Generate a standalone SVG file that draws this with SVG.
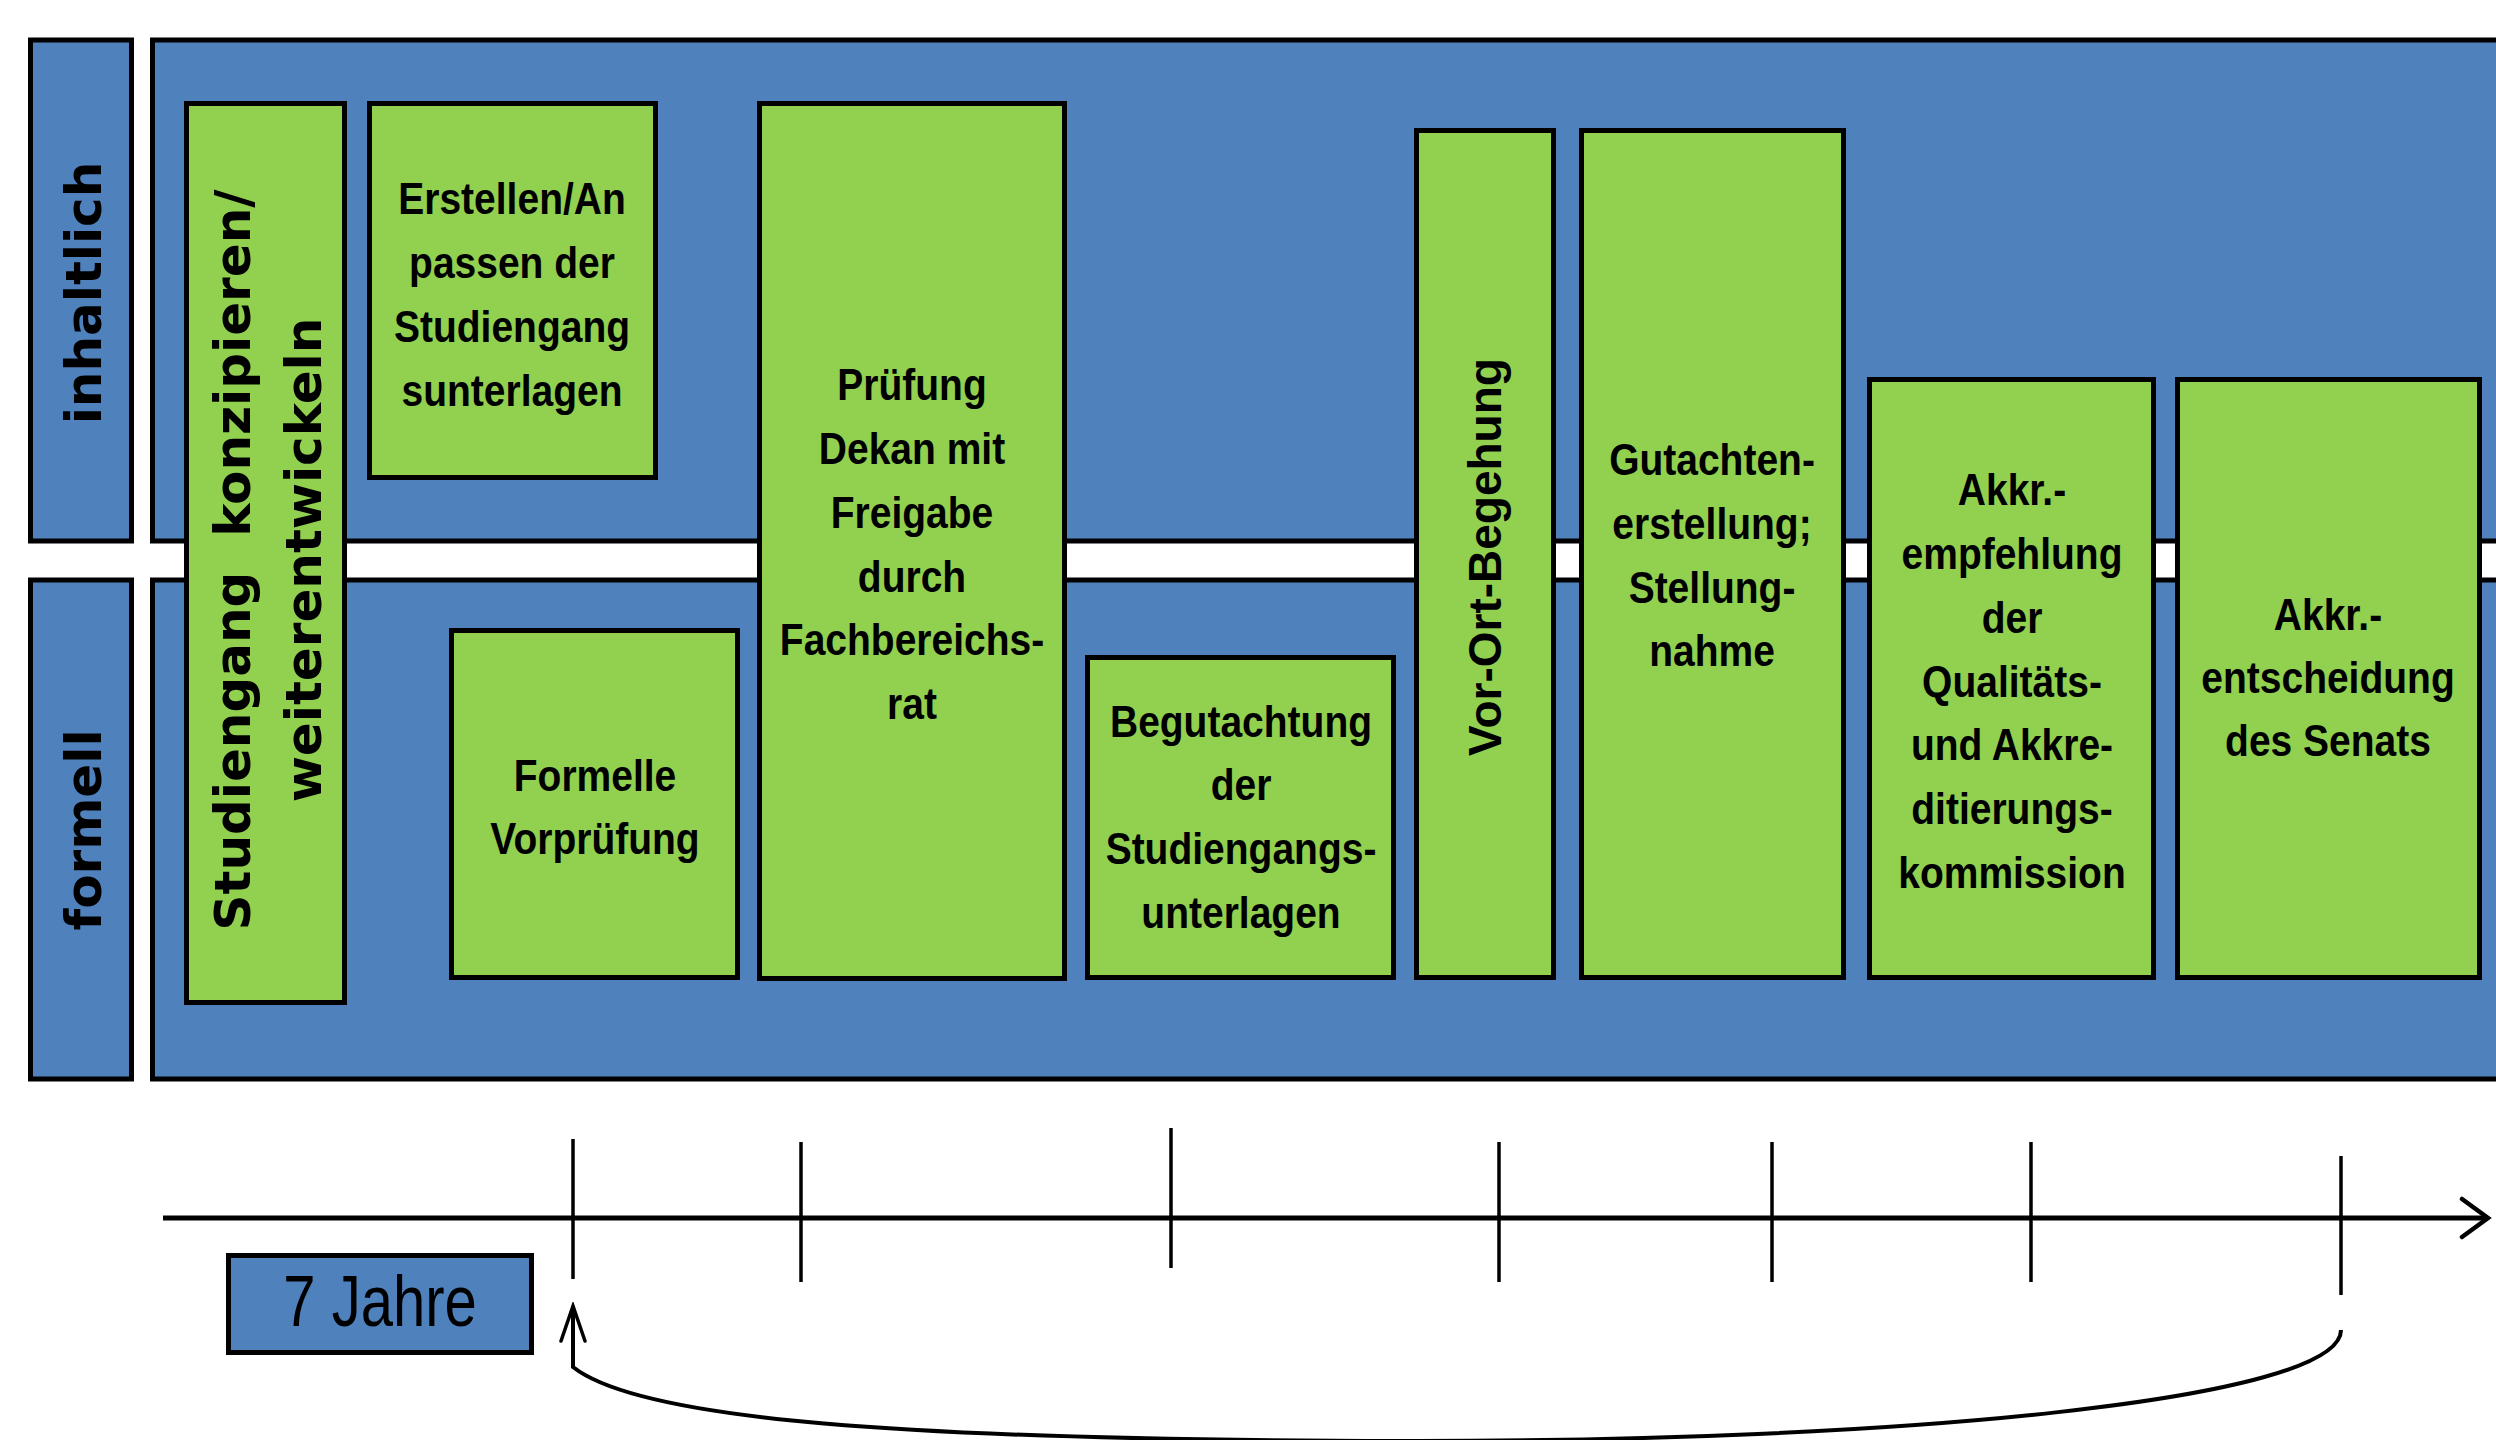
<svg xmlns="http://www.w3.org/2000/svg" width="2496" height="1440" viewBox="0 0 2496 1440">
<defs>
<style>
.lane{fill:#4F81BD;stroke:#000;stroke-width:5}
.box{fill:#92D050;stroke:#000;stroke-width:5}
.t{font-family:"Liberation Sans",Arial,sans-serif;font-weight:bold;font-size:39px;fill:#000;text-anchor:middle}
.v{font-family:"DejaVu Sans",Verdana,sans-serif;font-weight:bold;font-size:50px;fill:#000;text-anchor:middle}
.vs{font-family:"Liberation Sans",Arial,sans-serif;font-weight:bold;font-size:46px;fill:#000;text-anchor:middle}
.yr{font-family:"Liberation Sans",Arial,sans-serif;font-size:58px;fill:#000;text-anchor:middle}
.ax{stroke:#000;stroke-width:5;fill:none}
.tick{stroke:#000;stroke-width:3.5}
.cv{stroke:#000;stroke-width:4;fill:none}
</style>
<marker id="ahAxis" viewBox="-30 -22 34 44" markerWidth="34" markerHeight="44" refX="0" refY="0" markerUnits="userSpaceOnUse" orient="auto">
<path d="M-26,-19 L0,0 L-26,19" fill="none" stroke="#000" stroke-width="4.5" stroke-linecap="round" stroke-linejoin="miter"/>
</marker>
<marker id="ahCurve" viewBox="-38 -15 42 30" markerWidth="42" markerHeight="30" refX="0" refY="0" markerUnits="userSpaceOnUse" orient="auto">
<path d="M-35,-12 L0,0 L-35,12" fill="none" stroke="#000" stroke-width="3.5" stroke-linecap="round"/>
</marker>
</defs>
<rect width="2496" height="1440" fill="#fff"/>

<g id="lane-inhaltlich">
<rect class="lane" x="30.5" y="40" width="101" height="501"/>
<text class="v" transform="translate(101,293) rotate(-90)">inhaltlich</text>
</g>
<g id="lane-formell">
<rect class="lane" x="30.5" y="580" width="101" height="499"/>
<text class="v" transform="translate(101,830) rotate(-90)">formell</text>
</g>
<g id="band-top"><rect class="lane" x="152.5" y="40" width="2360" height="501"/></g>
<g id="band-bottom"><rect class="lane" x="152.5" y="580" width="2360" height="499"/></g>

<g id="n1">
<rect class="box" x="186.5" y="103.5" width="158" height="899"/>
<text class="v" transform="translate(250,560) rotate(-90)" xml:space="preserve">Studiengang  konzipieren/</text>
<text class="v" transform="translate(321,560) rotate(-90)">weiterentwickeln</text>
</g>
<g id="n2">
<rect class="box" x="369.5" y="103.5" width="286" height="374"/>
<text class="t" transform="translate(512,214) scale(1,1.12)">Erstellen/An</text>
<text class="t" transform="translate(512,278) scale(1,1.12)">passen der</text>
<text class="t" transform="translate(512,342) scale(1,1.12)">Studiengang</text>
<text class="t" transform="translate(512,406) scale(1,1.12)">sunterlagen</text>
</g>
<g id="n3">
<rect class="box" x="759.5" y="103.5" width="305" height="875"/>
<text class="t" transform="translate(912,400) scale(1,1.12)">Prüfung</text>
<text class="t" transform="translate(912,464) scale(1,1.12)">Dekan mit</text>
<text class="t" transform="translate(912,528) scale(1,1.12)">Freigabe</text>
<text class="t" transform="translate(912,592) scale(1,1.12)">durch</text>
<text class="t" transform="translate(912,655) scale(1,1.12)">Fachbereichs-</text>
<text class="t" transform="translate(912,719) scale(1,1.12)">rat</text>
</g>
<g id="n4">
<rect class="box" x="451.5" y="630.5" width="286" height="347"/>
<text class="t" transform="translate(595,791) scale(1,1.12)">Formelle</text>
<text class="t" transform="translate(595,854) scale(1,1.12)">Vorprüfung</text>
</g>
<g id="n5">
<rect class="box" x="1087.5" y="657.5" width="306" height="320"/>
<text class="t" transform="translate(1241,737) scale(1,1.12)">Begutachtung</text>
<text class="t" transform="translate(1241,800) scale(1,1.12)">der</text>
<text class="t" transform="translate(1241,864) scale(1,1.12)">Studiengangs-</text>
<text class="t" transform="translate(1241,928) scale(1,1.12)">unterlagen</text>
</g>
<g id="n6">
<rect class="box" x="1416.5" y="130.5" width="137" height="847"/>
<text class="vs" transform="translate(1501,557) rotate(-90)">Vor-Ort-Begehung</text>
</g>
<g id="n7">
<rect class="box" x="1581.5" y="130.5" width="262" height="847"/>
<text class="t" transform="translate(1712,475) scale(1,1.12)">Gutachten-</text>
<text class="t" transform="translate(1712,539) scale(1,1.12)">erstellung;</text>
<text class="t" transform="translate(1712,603) scale(1,1.12)">Stellung-</text>
<text class="t" transform="translate(1712,666) scale(1,1.12)">nahme</text>
</g>
<g id="n8">
<rect class="box" x="1869.5" y="379.5" width="284" height="598"/>
<text class="t" transform="translate(2012,505) scale(1,1.12)">Akkr.-</text>
<text class="t" transform="translate(2012,569) scale(1,1.12)">empfehlung</text>
<text class="t" transform="translate(2012,633) scale(1,1.12)">der</text>
<text class="t" transform="translate(2012,697) scale(1,1.12)">Qualitäts-</text>
<text class="t" transform="translate(2012,760) scale(1,1.12)">und Akkre-</text>
<text class="t" transform="translate(2012,824) scale(1,1.12)">ditierungs-</text>
<text class="t" transform="translate(2012,888) scale(1,1.12)">kommission</text>
</g>
<g id="n9">
<rect class="box" x="2177.5" y="379.5" width="302" height="598"/>
<text class="t" transform="translate(2328,630) scale(1,1.12)">Akkr.-</text>
<text class="t" transform="translate(2328,693) scale(1,1.12)">entscheidung</text>
<text class="t" transform="translate(2328,756) scale(1,1.12)">des Senats</text>
</g>
<g id="n-jahre">
<rect class="lane" x="228.5" y="1255.5" width="303" height="97"/>
<text class="yr" transform="translate(380,1326) scale(1,1.25)">7 Jahre</text>
</g>

<g id="connectors">
<line class="ax" x1="163" y1="1218" x2="2488" y2="1218" marker-end="url(#ahAxis)"/>
<line class="tick" x1="573" y1="1139" x2="573" y2="1279"/>
<line class="tick" x1="801" y1="1142" x2="801" y2="1282"/>
<line class="tick" x1="1171" y1="1128" x2="1171" y2="1268"/>
<line class="tick" x1="1499" y1="1142" x2="1499" y2="1282"/>
<line class="tick" x1="1772" y1="1142" x2="1772" y2="1282"/>
<line class="tick" x1="2031" y1="1142" x2="2031" y2="1282"/>
<line class="tick" x1="2341" y1="1156" x2="2341" y2="1295"/>
<path class="cv" d="M2341,1330 C2341,1400 1900,1442 1400,1441 C900,1440 640,1420 573,1367 L573,1306" marker-end="url(#ahCurve)"/>
</g>
</svg>
